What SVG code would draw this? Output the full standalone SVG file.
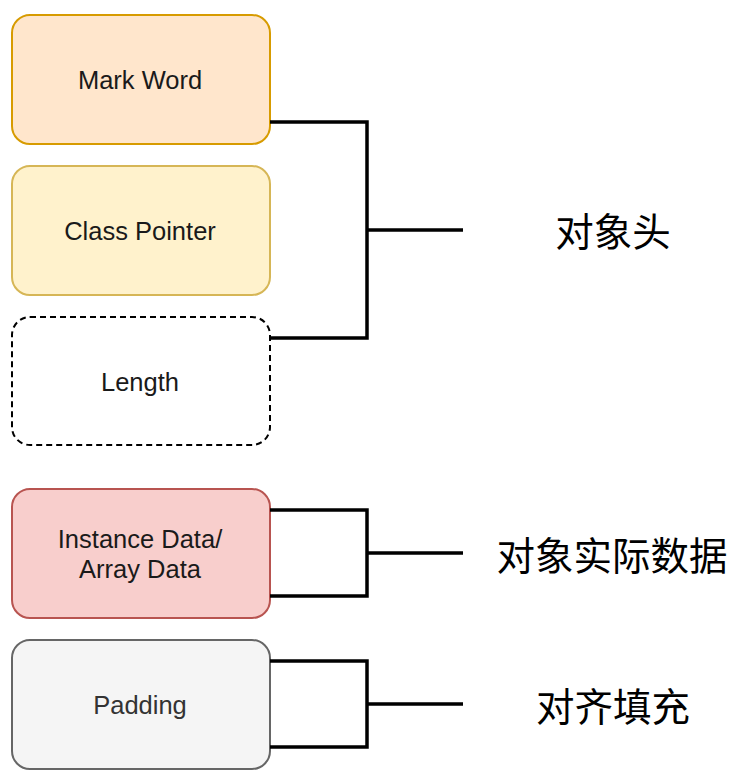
<svg xmlns="http://www.w3.org/2000/svg" width="747" height="783" viewBox="0 0 747 783">
<style>
.box{stroke-width:2}
.lbl{font-family:"Liberation Sans",Arial,sans-serif;font-size:25.5px;fill:#1a1a1a;text-anchor:middle;dominant-baseline:central}
.cn{font-family:"Noto Sans CJK SC","Noto Sans",sans-serif;font-size:38.5px;fill:#000;text-anchor:middle;dominant-baseline:central}
.conn{fill:none;stroke:#000;stroke-width:3.5}
</style>
<rect width="747" height="783" fill="#fff"/>
<g id="mark-word"><rect class="box" x="12" y="15" width="258" height="129" rx="18" fill="#ffe6cc" stroke="#d79b00"/><text class="lbl" x="140" y="80">Mark Word</text></g>
<g id="class-pointer"><rect class="box" x="12" y="166" width="258" height="129" rx="18" fill="#fff2cc" stroke="#d6b656"/><text class="lbl" x="140" y="231">Class Pointer</text></g>
<g id="length"><rect class="box" x="12" y="317" width="258" height="128" rx="18" fill="#fff" stroke="#000" stroke-dasharray="6 4"/><text class="lbl" x="140" y="382">Length</text></g>
<g id="instance-data"><rect class="box" x="12" y="489" width="258" height="129" rx="18" fill="#f8cecc" stroke="#b85450"/><text class="lbl" x="140" y="539">Instance Data/</text><text class="lbl" x="140" y="569">Array Data</text></g>
<g id="padding"><rect class="box" x="12" y="640" width="258" height="129" rx="18" fill="#f5f5f5" stroke="#666666"/><text class="lbl" x="140" y="705" style="fill:#333333">Padding</text></g>
<g id="connectors">
<path class="conn" d="M270 122H367V338H270M367 230H463"/>
<path class="conn" d="M270 510H367V596H270M367 553H463"/>
<path class="conn" d="M270 661H367V747H270M367 704H463"/>
</g>
<g id="header-label"><text class="cn" x="613" y="229">对象头</text></g>
<g id="data-label"><text class="cn" x="612" y="553">对象实际数据</text></g>
<g id="padding-label"><text class="cn" x="613" y="704">对齐填充</text></g>
</svg>
